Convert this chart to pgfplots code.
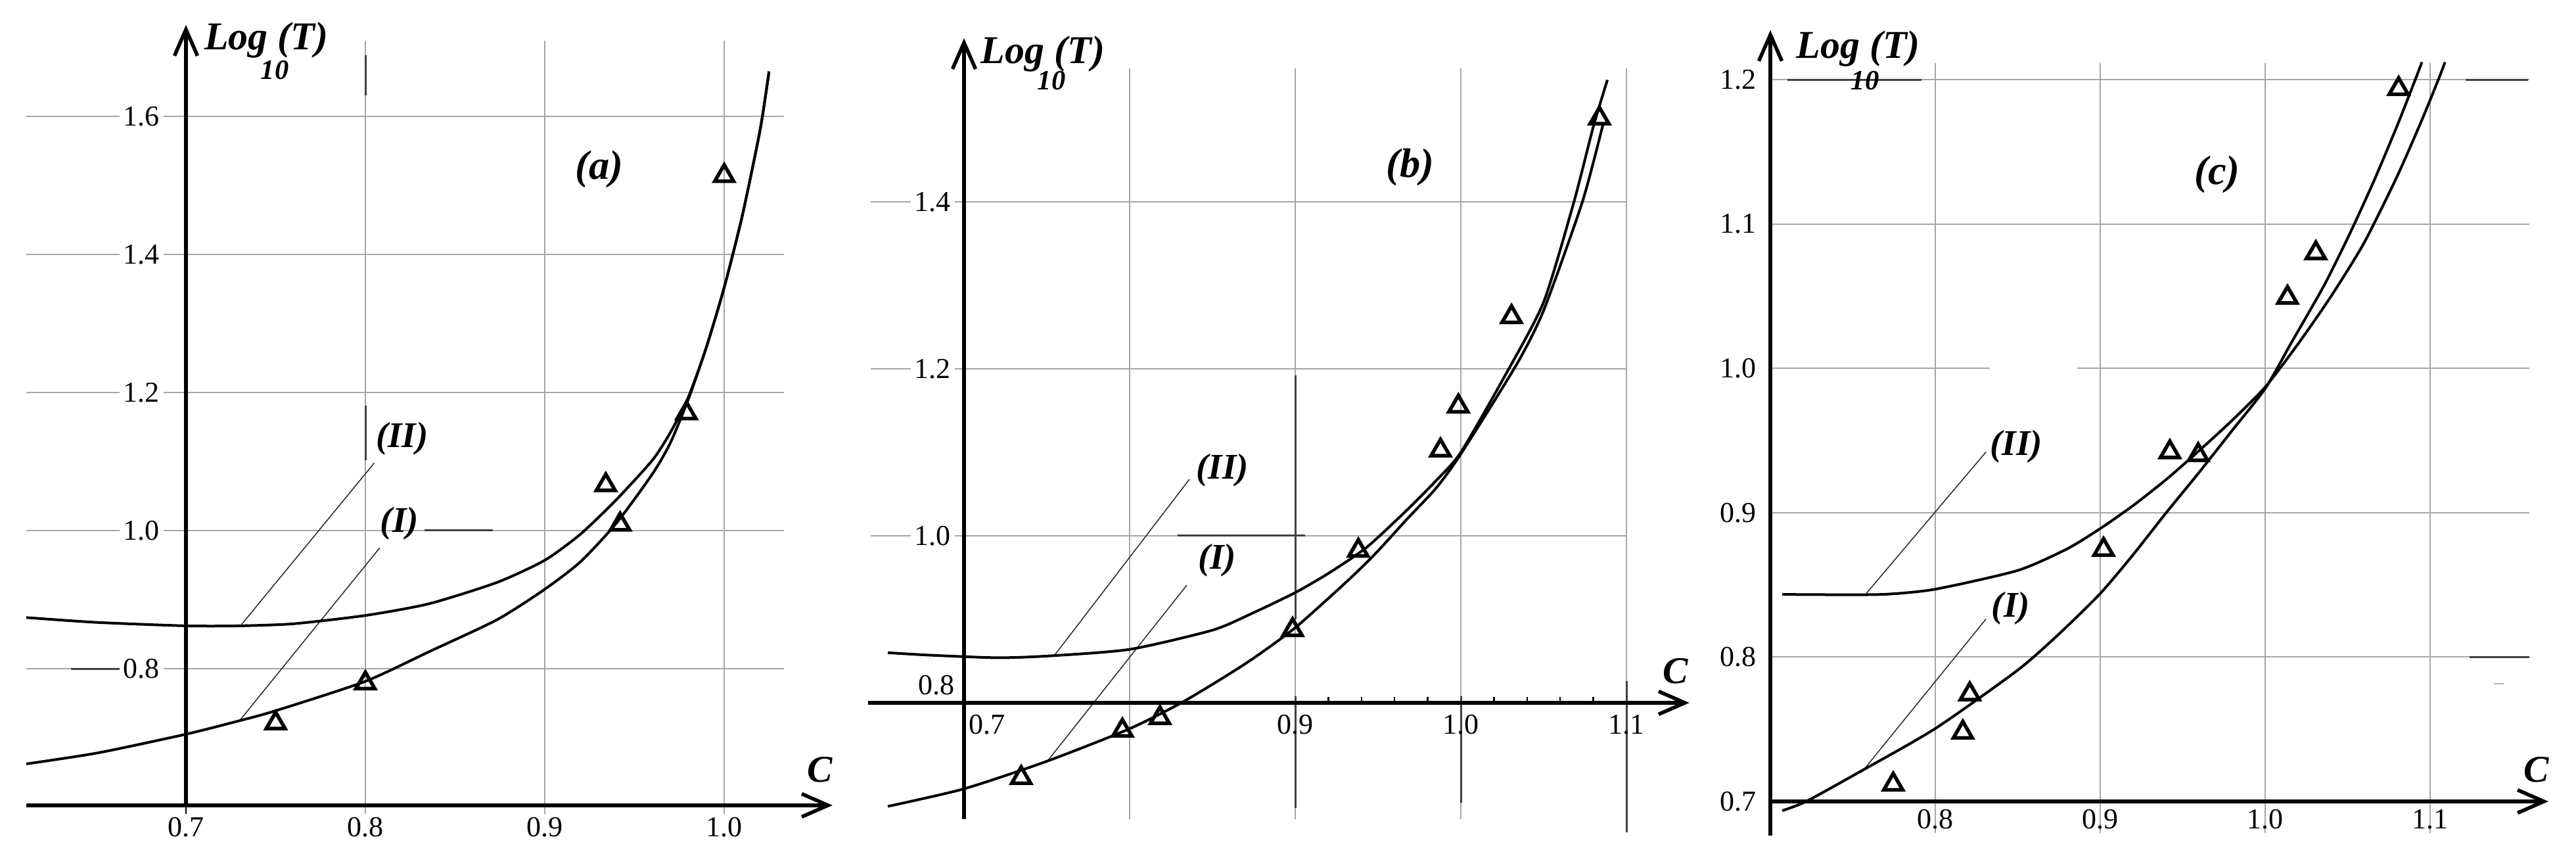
\documentclass[border=0pt]{standalone}
\usepackage{fontspec}
\setmainfont{Liberation Serif}
\usepackage{pgfplots}
\pgfplotsset{compat=1.18}
\usetikzlibrary{arrows.meta}

\pgfplotsset{
  panel/.style={hide axis, clip=false, anchor=south west, enlargelimits=false},
  curve/.style={black, line width=0.8pt, smooth, tension=0.4, no markers},
  pts/.style={only marks, mark=triangle, mark size=3.3pt, mark options={line width=1.1pt, draw=black, fill=white, solid}},
}
\tikzset{
  grd/.style={gray!70, line width=0.4pt},
  dgrd/.style={black!75, line width=0.6pt},
  ax/.style={line width=1.1pt, -{Straight Barb[length=8pt,width=7pt]}},
  ldr/.style={black!85, line width=0.3pt},
  lab/.style={font=\fontsize{11}{13}\selectfont\bfseries\itshape, inner sep=0pt},
  big/.style={font=\fontsize{12.5}{14}\selectfont\bfseries\itshape, inner sep=0pt},
  sub/.style={font=\fontsize{8.5}{9}\selectfont\bfseries\itshape, inner sep=0pt},
  tl/.style={font=\fontsize{8.8}{10}\selectfont, inner sep=1.2pt},
}

\begin{document}
\begin{tikzpicture}
\path (0pt,0pt) rectangle (784pt,260.2pt);

% ================= panel (a) =================
\begin{axis}[panel, at={(0pt,0pt)}, x=546pt, y=210pt,
  xmin=0.59634, xmax=1.07253, ymin=0.52952, ymax=1.76857]
\draw[grd] (axis cs:0.611,0.8) -- (axis cs:1.0333,0.8);
\draw[grd] (axis cs:0.611,1.0) -- (axis cs:1.0333,1.0);
\draw[grd] (axis cs:0.611,1.2) -- (axis cs:1.0333,1.2);
\draw[grd] (axis cs:0.611,1.4) -- (axis cs:1.0333,1.4);
\draw[grd] (axis cs:0.611,1.6) -- (axis cs:1.0333,1.6);
\draw[grd] (axis cs:0.8,0.59) -- (axis cs:0.8,1.7095);
\draw[grd] (axis cs:0.9,0.59) -- (axis cs:0.9,1.7095);
\draw[grd] (axis cs:1.0,0.59) -- (axis cs:1.0,1.7095);
\draw[dgrd] (axis cs:0.8,1.689) -- (axis cs:0.8,1.630);
\draw[dgrd] (axis cs:0.8,1.181) -- (axis cs:0.8,1.102);
\draw[dgrd] (axis cs:0.833,1.0) -- (axis cs:0.871,1.0);
\draw[dgrd] (axis cs:0.636,0.8) -- (axis cs:0.670,0.8);
\draw[black, line width=0.5pt] (axis cs:0.7,0.602) -- (axis cs:0.7,0.59);
\node[tl, anchor=east, fill=white] at (axis cs:0.6879,0.8) {0.8};
\node[tl, anchor=east, fill=white] at (axis cs:0.6879,1.0) {1.0};
\node[tl, anchor=east, fill=white] at (axis cs:0.6879,1.2) {1.2};
\node[tl, anchor=east, fill=white] at (axis cs:0.6879,1.4) {1.4};
\node[tl, anchor=east, fill=white] at (axis cs:0.6879,1.6) {1.6};
\node[tl] at (axis cs:0.7,0.5705) {0.7};
\node[tl] at (axis cs:0.8,0.5705) {0.8};
\node[tl] at (axis cs:0.9,0.5705) {0.9};
\node[tl] at (axis cs:1.0,0.5705) {1.0};
\draw[ldr] (axis cs:0.805,1.098) -- (axis cs:0.731,0.864);
\draw[ldr] (axis cs:0.808,0.975) -- (axis cs:0.730,0.725);
\addplot[curve] coordinates {(0.611,0.874) (0.65,0.867) (0.70,0.862) (0.73,0.862) (0.76,0.865) (0.80,0.877) (0.8355,0.894) (0.8735,0.925) (0.90,0.957) (0.92,0.995) (0.94,1.045) (0.96,1.102) (0.97,1.142) (0.98,1.193) (0.99,1.265) (1.00,1.352) (1.01,1.455) (1.02,1.580) (1.025,1.665)};
\addplot[curve] coordinates {(0.611,0.662) (0.651,0.678) (0.70,0.705) (0.729,0.724) (0.75,0.739) (0.80,0.7816) (0.8355,0.8245) (0.8735,0.871) (0.90,0.915) (0.92,0.955) (0.94,1.011) (0.96,1.082) (0.97,1.127) (0.98,1.190) (0.99,1.265) (1.00,1.352) (1.01,1.455) (1.02,1.580) (1.025,1.665)};
\addplot[pts] coordinates {(0.75,0.721) (0.80,0.779) (0.934,1.066) (0.942,1.009) (0.979,1.170) (1.0,1.514)};
\draw[ax] (axis cs:0.611,0.602) -- (axis cs:1.0604,0.602);
\draw[ax] (axis cs:0.7,0.602) -- (axis cs:0.7,1.7324);
\node[big] at (axis cs:0.9304,1.5229) {(a)};
\node[lab] at (axis cs:0.8205,1.1333) {(II)};
\node[lab] at (axis cs:0.819,1.0105) {(I)};
\node[lab, font=\fontsize{11.5}{13}\selectfont\bfseries\itshape] at (axis cs:1.0535,0.6533) {C};
\node[lab, font=\fontsize{12}{14}\selectfont\bfseries\itshape, anchor=base west] at (axis cs:0.7099,1.697) {Log (T)};
\node[sub] at (axis cs:0.7495,1.6667) {10};
\end{axis}

% ================= panel (b) =================
\begin{axis}[panel, at={(260pt,0pt)}, x=504pt, y=254pt,
  xmin=0.63373, xmax=1.15754, ymin=0.61732, ymax=1.64173]
\draw[grd] (axis cs:0.6437,1.0) -- (axis cs:1.1,1.0);
\draw[grd] (axis cs:0.6437,1.2) -- (axis cs:1.1,1.2);
\draw[grd] (axis cs:0.6437,1.4) -- (axis cs:1.1,1.4);
\draw[grd] (axis cs:0.8,0.661) -- (axis cs:0.8,1.560);
\draw[grd] (axis cs:0.9,0.661) -- (axis cs:0.9,1.560);
\draw[grd] (axis cs:1.0,0.661) -- (axis cs:1.0,1.560);
\draw[grd] (axis cs:1.1,0.661) -- (axis cs:1.1,1.560);
\draw[dgrd] (axis cs:0.829,1.0) -- (axis cs:0.906,1.0);
\draw[dgrd] (axis cs:0.9,1.192) -- (axis cs:0.9,0.90);
\draw[dgrd] (axis cs:0.9,0.808) -- (axis cs:0.9,0.674);
\draw[dgrd] (axis cs:1.0,0.808) -- (axis cs:1.0,0.680);
\draw[dgrd] (axis cs:1.1,0.826) -- (axis cs:1.1,0.645);
\draw[black, line width=0.5pt] (axis cs:0.92,0.8) -- (axis cs:0.92,0.807);
\draw[black, line width=0.5pt] (axis cs:0.94,0.8) -- (axis cs:0.94,0.807);
\draw[black, line width=0.5pt] (axis cs:0.96,0.8) -- (axis cs:0.96,0.807);
\draw[black, line width=0.5pt] (axis cs:0.98,0.8) -- (axis cs:0.98,0.807);
\draw[black, line width=0.5pt] (axis cs:1.02,0.8) -- (axis cs:1.02,0.807);
\draw[black, line width=0.5pt] (axis cs:1.04,0.8) -- (axis cs:1.04,0.807);
\draw[black, line width=0.5pt] (axis cs:1.06,0.8) -- (axis cs:1.06,0.807);
\draw[black, line width=0.5pt] (axis cs:1.08,0.8) -- (axis cs:1.08,0.807);
\node[tl, anchor=east, fill=white] at (axis cs:0.6948,1.0) {1.0};
\node[tl, anchor=east, fill=white] at (axis cs:0.6948,1.2) {1.2};
\node[tl, anchor=east, fill=white] at (axis cs:0.6948,1.4) {1.4};
\node[tl] at (axis cs:0.6833,0.821) {0.8};
\node[tl] at (axis cs:0.7139,0.774) {0.7};
\node[tl] at (axis cs:0.9,0.774) {0.9};
\node[tl] at (axis cs:1.0,0.774) {1.0};
\node[tl] at (axis cs:1.1,0.774) {1.1};
\draw[ldr] (axis cs:0.8361,1.0677) -- (axis cs:0.7544,0.8563);
\draw[ldr] (axis cs:0.8345,0.9409) -- (axis cs:0.7496,0.7283);
\addplot[curve] coordinates {(0.654,0.860) (0.68,0.857) (0.72,0.854) (0.75,0.856) (0.80,0.864) (0.85,0.887) (0.8738,0.907) (0.90,0.932) (0.92,0.955) (0.943,0.986) (0.967,1.030) (0.985,1.066) (1.0,1.100) (1.027,1.193) (1.05,1.280) (1.0683,1.40) (1.08,1.49) (1.0885,1.546)};
\addplot[curve] coordinates {(0.654,0.676) (0.70,0.697) (0.75,0.730) (0.80,0.769) (0.833,0.802) (0.87,0.847) (0.90,0.890) (0.9337,0.950) (0.95,0.982) (0.967,1.019) (0.985,1.057) (1.0,1.098) (1.0336,1.205) (1.05,1.270) (1.0734,1.40) (1.086,1.494)};
\addplot[pts] coordinates {(0.7345,0.7102) (0.7956,0.7669) (0.8183,0.7819) (0.8984,0.8874) (0.9381,0.9823) (0.9877,1.1024) (0.9985,1.1551) (1.0306,1.2622) (1.0837,1.500)};
\draw[ax] (axis cs:0.642,0.8) -- (axis cs:1.138,0.8);
\draw[ax] (axis cs:0.7,0.661) -- (axis cs:0.7,1.596);
\node[big] at (axis cs:0.9694,1.4417) {(b)};
\node[lab] at (axis cs:0.856,1.0787) {(II)};
\node[lab] at (axis cs:0.8528,0.9709) {(I)};
\node[lab, font=\fontsize{11.5}{13}\selectfont\bfseries\itshape] at (axis cs:1.1298,0.8378) {C};
\node[lab, font=\fontsize{12}{14}\selectfont\bfseries\itshape, anchor=base west] at (axis cs:0.7099,1.566) {Log (T)};
\node[sub] at (axis cs:0.7528,1.5449) {10};
\end{axis}

% ================= panel (c) =================
\begin{axis}[panel, at={(524pt,0pt)}, x=502pt, y=439.2pt,
  xmin=0.67052, xmax=1.18845, ymin=0.66266, ymax=1.25510]
\draw[grd] (axis cs:0.7,0.8) -- (axis cs:1.1602,0.8);
\draw[grd] (axis cs:0.7,0.9) -- (axis cs:1.1602,0.9);
\draw[grd] (axis cs:0.7,1.0) -- (axis cs:0.833,1.0);
\draw[grd] (axis cs:0.886,1.0) -- (axis cs:1.1602,1.0);
\draw[grd] (axis cs:0.7,1.1) -- (axis cs:1.1602,1.1);
\draw[grd] (axis cs:0.7,1.2) -- (axis cs:1.1602,1.2);
\draw[grd] (axis cs:0.8,0.6781) -- (axis cs:0.8,1.2114);
\draw[grd] (axis cs:0.9,0.6781) -- (axis cs:0.9,1.2114);
\draw[grd] (axis cs:1.0,0.6781) -- (axis cs:1.0,1.2114);
\draw[grd] (axis cs:1.1,0.6781) -- (axis cs:1.1,1.2114);
\draw[dgrd] (axis cs:0.7104,1.2) -- (axis cs:0.7916,1.2);
\draw[dgrd] (axis cs:1.1215,1.2) -- (axis cs:1.1594,1.2);
\draw[dgrd] (axis cs:1.1237,0.8) -- (axis cs:1.1602,0.8);
\draw[gray!60, line width=0.5pt] (axis cs:1.1386,0.7815) -- (axis cs:1.1446,0.7815);
\node[tl, anchor=east] at (axis cs:0.6944,0.7) {0.7};
\node[tl, anchor=east] at (axis cs:0.6944,0.8) {0.8};
\node[tl, anchor=east] at (axis cs:0.6944,0.9) {0.9};
\node[tl, anchor=east] at (axis cs:0.6944,1.0) {1.0};
\node[tl, anchor=east] at (axis cs:0.6944,1.1) {1.1};
\node[tl, anchor=east] at (axis cs:0.6944,1.2) {1.2};
\node[tl] at (axis cs:0.8,0.6877) {0.8};
\node[tl] at (axis cs:0.9,0.6877) {0.9};
\node[tl] at (axis cs:1.0,0.6877) {1.0};
\node[tl] at (axis cs:1.1,0.6877) {1.1};
\draw[ldr] (axis cs:0.8307,0.942) -- (axis cs:0.757,0.8425);
\draw[ldr] (axis cs:0.8307,0.8263) -- (axis cs:0.7552,0.720);
\addplot[curve] coordinates {(0.7072,0.8434) (0.74,0.8432) (0.77,0.8435) (0.80,0.847) (0.85,0.860) (0.88,0.875) (0.90,0.889) (0.92,0.905) (0.94,0.923) (0.96,0.943) (0.98,0.964) (1.0,0.987) (1.02,1.017) (1.04,1.050) (1.06,1.087) (1.08,1.133) (1.095,1.172) (1.105,1.20) (1.109,1.212)};
\addplot[curve] coordinates {(0.7072,0.6936) (0.7217,0.700) (0.7534,0.720) (0.80,0.7505) (0.85,0.791) (0.875,0.816) (0.90,0.844) (0.92,0.871) (0.94,0.900) (0.96,0.928) (0.98,0.957) (1.0,0.986) (1.016,1.018) (1.036,1.058) (1.052,1.095) (1.066,1.13) (1.08,1.168) (1.091,1.20) (1.095,1.212)};
\addplot[pts] coordinates {(0.7745,0.7118) (0.8167,0.7478) (0.8209,0.7743) (0.9020,0.8744) (0.9422,0.9420) (0.9594,0.9400) (1.0135,1.049) (1.0307,1.0798) (1.0809,1.1936)};
\draw[ax] (axis cs:0.7,0.7) -- (axis cs:1.1717,0.7);
\draw[ax] (axis cs:0.7,0.6763) -- (axis cs:0.7,1.2342);
\node[big] at (axis cs:0.9709,1.1344) {(c)};
\node[lab] at (axis cs:0.849,0.9459) {(II)};
\node[lab] at (axis cs:0.8458,0.8339) {(I)};
\node[lab, font=\fontsize{11.5}{13}\selectfont\bfseries\itshape] at (axis cs:1.1645,0.7219) {C};
\node[lab, font=\fontsize{12}{14}\selectfont\bfseries\itshape, anchor=base west] at (axis cs:0.7153,1.2146) {Log (T)};
\node[sub] at (axis cs:0.7574,1.1991) {10};
\end{axis}
\end{tikzpicture}
\end{document}
